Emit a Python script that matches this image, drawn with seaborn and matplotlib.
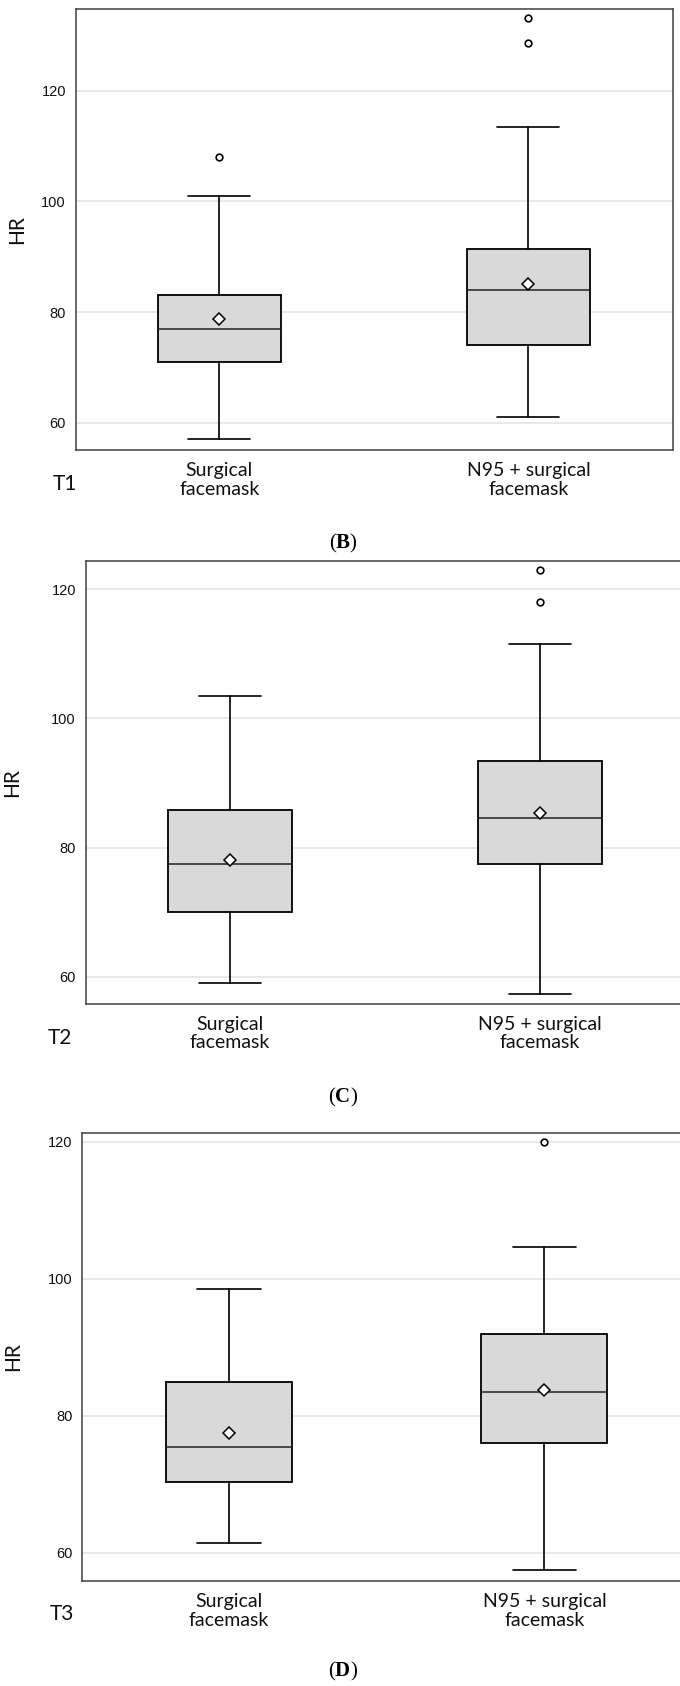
import matplotlib
matplotlib.use("Agg")
import matplotlib.pyplot as plt
import seaborn as sns

# heart rate summary per mask type
groups = ["Surgical\nfacemask", "N95 + surgical\nfacemask"]
times = ["T1", "T2", "T3"]
tags = ["B", "C", "D"]

t1_q1 = [71, 74]
t1_med = [77, 84]
t1_q3 = [83, 91.4]
t1_lo = [57, 61]
t1_hi = [101, 113.5]
t1_mean = [78.8, 85.0]
t1_out = [[108], [128.6, 133.1]]

t2_q1 = [70, 77.5]
t2_med = [77.5, 84.5]
t2_q3 = [85.8, 93.4]
t2_lo = [59, 57.4]
t2_hi = [103.5, 111.5]
t2_mean = [78, 85.3]
t2_out = [[], [118, 122.9]]

t3_q1 = [70.4, 76]
t3_med = [75.5, 83.5]
t3_q3 = [84.9, 92]
t3_lo = [61.5, 57.5]
t3_hi = [98.5, 104.6]
t3_mean = [77.5, 83.7]
t3_out = [[], [120]]

yticks = [60, 80, 100, 120]

sns.set_theme(style="whitegrid")
plt.rcParams['font.family'] = ['Liberation Sans', 'DejaVu Sans']
plt.rcParams['mathtext.fontset'] = 'custom'
plt.rcParams['mathtext.rm'] = 'Liberation Serif'
plt.rcParams['mathtext.bf'] = 'Liberation Serif:bold'

W, H = 680, 1686
fig = plt.figure(figsize=(W / 100, H / 100), dpi=100)
fig.patch.set_facecolor("white")


def make_stats(q1, med, q3, lo, hi, mean, out):
    stats = []
    for i in range(len(groups)):
        stats.append(dict(q1=q1[i], med=med[i], q3=q3[i], whislo=lo[i],
                          whishi=hi[i], mean=mean[i], fliers=out[i], label=groups[i]))
    return stats


panels = [
    # left, top, right, bottom (px), ylim, y-label x px, T label pos, tag y
    dict(stats=make_stats(t1_q1, t1_med, t1_q3, t1_lo, t1_hi, t1_mean, t1_out),
         box=(75.7, 9, 673, 450), ylim=(55.06, 134.8), hr_x=27, tpos=(65, 484), tag_y=543),
    dict(stats=make_stats(t2_q1, t2_med, t2_q3, t2_lo, t2_hi, t2_mean, t2_out),
         box=(85.7, 560.7, 685, 1003.6), ylim=(55.85, 124.4), hr_x=22, tpos=(60, 1038), tag_y=1097),
    dict(stats=make_stats(t3_q1, t3_med, t3_q3, t3_lo, t3_hi, t3_mean, t3_out),
         box=(82.3, 1132.7, 692, 1581), ylim=(55.9, 121.3), hr_x=23, tpos=(62, 1614), tag_y=1671),
]

line_kw = dict(color="black", linewidth=1.2)
sans = ["Lato", "DejaVu Sans"]

for k, p in enumerate(panels):
    left, top, right, bottom = p["box"]
    ax = fig.add_axes([left / W, 1 - bottom / H, (right - left) / W, (bottom - top) / H])
    ax.set_facecolor("white")

    ax.bxp(p["stats"], positions=[0, 1], widths=0.4, capwidths=0.2,
           showmeans=True, showfliers=True, patch_artist=True,
           boxprops=dict(facecolor="#d9d9d9", edgecolor="black", linewidth=1.3),
           medianprops=dict(color="#222222", linewidth=1.1),
           whiskerprops=line_kw, capprops=line_kw,
           meanprops=dict(marker="D", markerfacecolor="white", markeredgecolor="black",
                          markersize=6.5, markeredgewidth=1.1),
           flierprops=dict(marker="o", markerfacecolor="white", markeredgecolor="black",
                           markersize=4.8, markeredgewidth=1.2))

    ax.set_xlim(-0.465, 1.468)
    ax.set_ylim(*p["ylim"])
    ax.set_yticks(yticks)
    ax.set_xticks([0, 1])
    ax.set_xticklabels(groups)

    ax.grid(axis="y", color="#e6e6e6", linewidth=1.3)
    ax.grid(axis="x", visible=False)
    ax.set_axisbelow(True)
    for s in ax.spines.values():
        s.set_color("#404040")
        s.set_linewidth(1.1)

    ax.tick_params(axis="y", length=4, width=1, color="#aaaaaa", pad=3,
                   labelsize=10.5, labelcolor="#111111")
    ax.tick_params(axis="x", length=4, width=1, color="#aaaaaa", pad=5,
                   labelsize=14, labelcolor="#111111")
    for lab in ax.get_xticklabels():
        lab.set_fontfamily(sans)
        lab.set_linespacing(1.1)

    ax.set_ylabel("HR", fontsize=15, family=sans, color="#111111")
    ax.yaxis.set_label_coords((p["hr_x"] - left) / (right - left), 0.5)
    ax.set_xlabel("")

    fig.text(p["tpos"][0] / W, 1 - p["tpos"][1] / H, times[k], fontsize=15,
             family=sans, ha="center", va="center", color="#111111")
    fig.text(343 / W, 1 - p["tag_y"] / H, r"$(\mathbf{" + tags[k] + r"})$", fontsize=15,
             ha="center", va="center", color="black")

fig.savefig("out.png", dpi=100, facecolor="white")
